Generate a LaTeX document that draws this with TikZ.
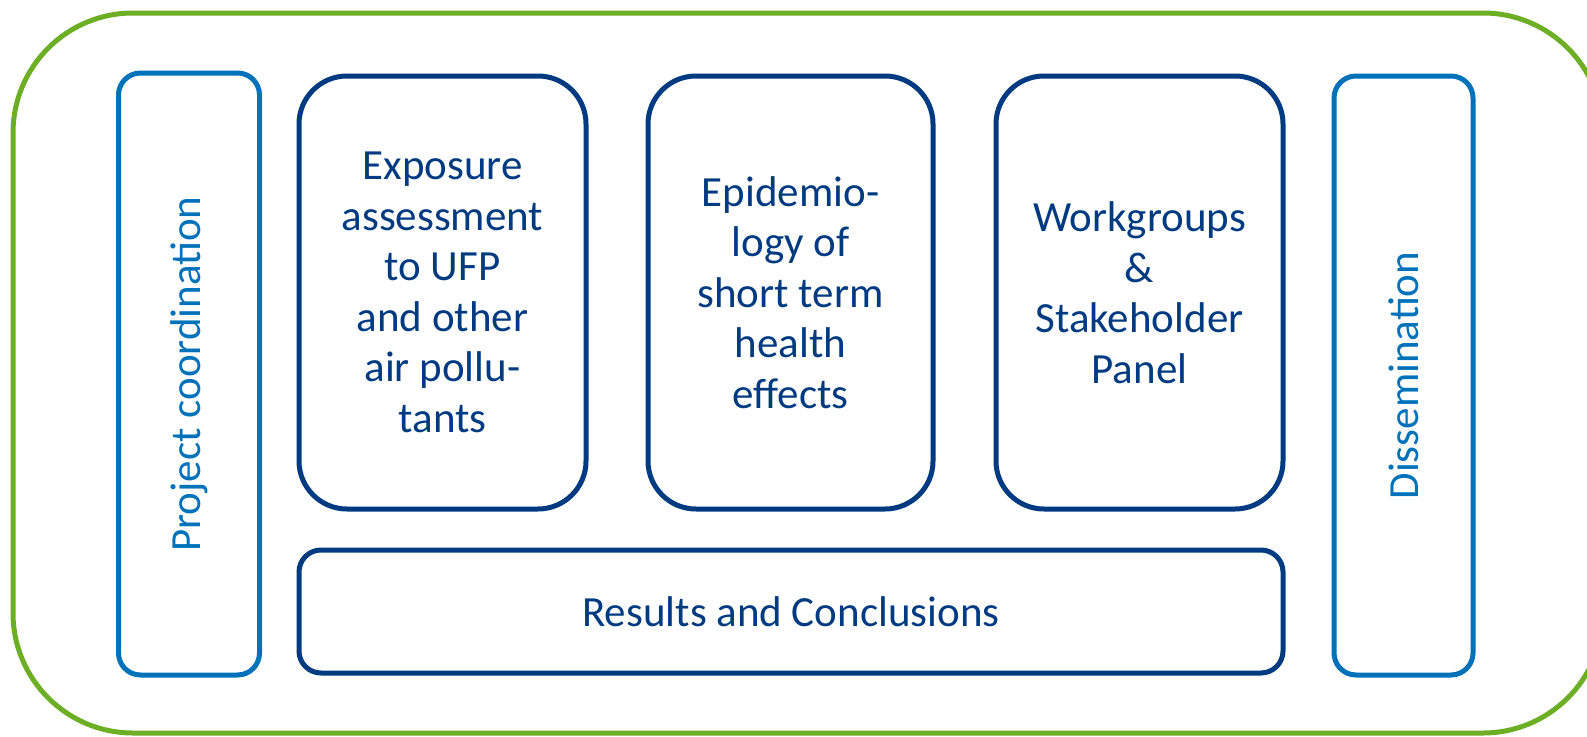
\documentclass[tikz,border=0pt]{standalone}
\usepackage{fontspec}
\setmainfont{Carlito}
\definecolor{lblue}{RGB}{0,114,186}
\definecolor{dblue}{RGB}{0,58,128}
\definecolor{fgreen}{RGB}{108,174,36}
\begin{document}
\begin{tikzpicture}[x=1pt,y=-1pt,
  side/.style={draw=lblue,line width=5pt,rounded corners=22pt,inner sep=0pt,
    text=lblue,font=\fontsize{43}{50.5}\selectfont,rotate=90},
  wp/.style={draw=dblue,line width=5pt,rounded corners=48pt,inner sep=0pt,
    text=dblue,align=center,font=\fontsize{43}{50.5}\selectfont,
    minimum height=433pt},
  resbox/.style={draw=dblue,line width=5pt,rounded corners=22pt,inner sep=0pt,
    text=dblue,font=\fontsize{43}{50.5}\selectfont}]
\path[use as bounding box] (0,0) rectangle (1587,736);
\begin{scope}
\clip (0,0) rectangle (1587,736);
\draw[fgreen,line width=5pt,rounded corners=120pt] (13,13) rectangle (1603,733);
\end{scope}
\node[side,minimum width=602pt,minimum height=141pt] (pc) at (189,374) {Project coordination};
\node[wp,minimum width=287pt] (e1) at (442.5,292.5) {Exposure\\assessment\\to UFP\\and other\\air pollu-\\tants};
\node[wp,minimum width=285pt] (e2) at (790.5,292.5) {Epidemio-\\logy of\\short term\\health\\effects};
\node[wp,minimum width=287pt] (e3) at (1139.5,292.5) {Workgroups\\\&\\Stakeholder\\Panel};
\node[resbox,minimum width=984pt,minimum height=123pt] (res) at (791,611.5) {Results and Conclusions};
\node[side,minimum width=599pt,minimum height=139pt] (dis) at (1403.5,375.5) {Dissemination};
\end{tikzpicture}
\end{document}
